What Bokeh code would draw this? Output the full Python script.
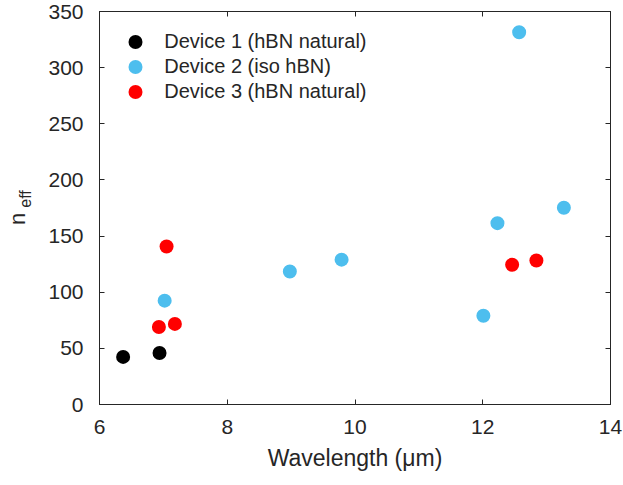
import math
from bokeh.plotting import figure
from bokeh.layouts import row
from bokeh.models import Range1d, LinearAxis, FixedTicker, Legend, LegendItem, Label
from bokeh.embed import file_html
from bokeh.resources import INLINE

# Data
d1_name = "Device 1 (hBN natural)"
d1_x = [6.37, 6.94]
d1_y = [42.4, 45.9]

d2_name = "Device 2 (iso hBN)"
d2_x = [7.02, 8.98, 9.79, 12.01, 12.23, 12.57, 13.27]
d2_y = [92.5, 118.5, 129.0, 79.0, 161.5, 331.5, 175.2]

d3_name = "Device 3 (hBN natural)"
d3_x = [6.93, 7.05, 7.18, 12.46, 12.84]
d3_y = [69.0, 140.7, 71.8, 124.4, 128.2]

x_ticks = [6, 8, 10, 12, 14]
y_ticks = [0, 50, 100, 150, 200, 250, 300, 350]

FONT = "Liberation Sans"
TXT = "#262626"

LABEL_W = 45
H = 485

p = figure(width=623 - LABEL_W, height=H, output_backend="svg", toolbar_location=None,
           x_range=Range1d(6, 14), y_range=Range1d(0, 350),
           min_border_left=99 - LABEL_W, min_border_right=13, min_border_top=11,
           min_border_bottom=81)
p.xgrid.visible = False
p.ygrid.visible = False
p.outline_line_color = TXT
p.outline_line_width = 1
p.background_fill_color = "white"
p.border_fill_color = "white"

def style_axis(ax, labels=True):
    ax.axis_line_color = TXT
    ax.major_tick_line_color = TXT
    ax.major_tick_in = 5
    ax.major_tick_out = 0
    ax.minor_tick_line_color = None
    ax.major_label_text_font = FONT
    ax.major_label_text_font_size = "21px"
    ax.major_label_text_color = TXT
    if not labels:
        ax.major_label_text_color = None
        ax.major_label_text_font_size = "0px"

p.xaxis.ticker = FixedTicker(ticks=x_ticks)
p.yaxis.ticker = FixedTicker(ticks=y_ticks)
style_axis(p.xaxis[0])
style_axis(p.yaxis[0])
p.xaxis.major_label_standoff = 15
p.yaxis.major_label_standoff = 16
p.xaxis.axis_label = "Wavelength (μm)"
p.xaxis.axis_label_text_font = FONT
p.xaxis.axis_label_text_font_size = "23px"
p.xaxis.axis_label_text_font_style = "normal"
p.xaxis.axis_label_text_color = TXT
p.xaxis.axis_label_standoff = 8

top = LinearAxis(ticker=FixedTicker(ticks=x_ticks))
style_axis(top, labels=False)
p.add_layout(top, "above")
right = LinearAxis(ticker=FixedTicker(ticks=y_ticks))
style_axis(right, labels=False)
p.add_layout(right, "right")

r1 = p.scatter(d1_x, d1_y, size=14, color="#000000", line_color=None)
r2 = p.scatter(d2_x, d2_y, size=14, color="#4DBEEE", line_color=None)
r3 = p.scatter(d3_x, d3_y, size=14, color="#FF0000", line_color=None)

# One legend per entry so rows can sit 25 px apart while keeping 14 px markers
for name, r, vy in [(d1_name, r1, 345.3), (d2_name, r2, 320.3), (d3_name, r3, 295.3)]:
    lg = Legend(items=[LegendItem(label=name, renderers=[r])],
                location=(12.2, vy), border_line_color=None, background_fill_alpha=0,
                label_text_font=FONT, label_text_font_size="20px", label_text_color=TXT,
                glyph_width=48, glyph_height=35, spacing=0, margin=0, padding=0,
                label_standoff=5)
    p.add_layout(lg, "center")

# Narrow strip on the left carrying the y-axis title n_eff (with subscript).
# Its frame gets aligned with the main frame (top 11, bottom 403.5).
FRAME_BOTTOM = 403.5
lab = figure(width=LABEL_W, height=H, output_backend="svg", toolbar_location=None,
             x_axis_type=None, y_axis_type=None, min_border=0,
             x_range=Range1d(0, 1), y_range=Range1d(0, 1))
lab.outline_line_color = None
lab.xgrid.visible = False
lab.ygrid.visible = False
lab.background_fill_color = "white"
lab.border_fill_color = "white"
lab.add_layout(Label(x=17, y=FRAME_BOTTOM - 218, x_units="screen", y_units="screen", text="n",
                     angle=math.pi / 2, text_align="center", text_baseline="alphabetic",
                     text_font=FONT, text_font_size="22px", text_color=TXT))
lab.add_layout(Label(x=25, y=FRAME_BOTTOM - 198, x_units="screen", y_units="screen", text="eff",
                     angle=math.pi / 2, text_align="center", text_baseline="alphabetic",
                     text_font=FONT, text_font_size="16px", text_color=TXT))

layout = row(lab, p, spacing=0)
open("out.html", "w").write(file_html(layout, INLINE))
